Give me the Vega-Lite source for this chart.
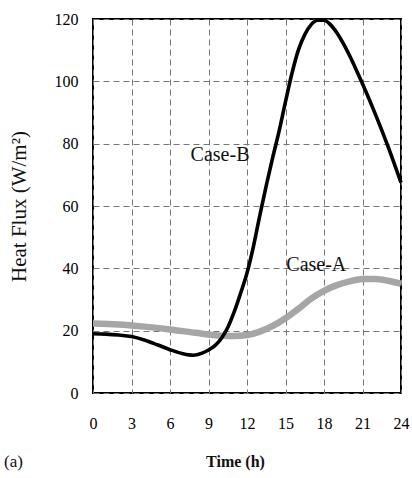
{
  "$schema": "https://vega.github.io/schema/vega-lite/v6.json",
  "width": 308,
  "height": 374,
  "autosize": "none",
  "padding": {"left": 93, "top": 19, "right": 11, "bottom": 85},
  "config": {
    "view": {"stroke": "black", "strokeWidth": 2},
    "font": "Liberation Serif",
    "axis": {
      "grid": true,
      "gridDash": [6, 4],
      "gridColor": "#777777",
      "gridWidth": 1,
      "ticks": false,
      "domain": false,
      "labelFlush": false,
      "labelFont": "Liberation Serif",
      "titleFont": "Liberation Serif",
      "labelColor": "#000000",
      "titleColor": "#111111",
      "labelFontSize": 16,
      "titleFontSize": 16,
      "titleFontWeight": "bold"
    }
  },
  "title": {
    "text": "(a)",
    "orient": "bottom",
    "anchor": "start",
    "frame": "group",
    "dx": -89,
    "dy": -19,
    "fontSize": 17,
    "fontWeight": "normal",
    "color": "#111111",
    "font": "Liberation Serif"
  },
  "datasets": {
    "curves": [
      {"series": "Case-A", "t": 0, "q": 22.3},
      {"series": "Case-A", "t": 2, "q": 22.0},
      {"series": "Case-A", "t": 4, "q": 21.3},
      {"series": "Case-A", "t": 6, "q": 20.4},
      {"series": "Case-A", "t": 8, "q": 19.3},
      {"series": "Case-A", "t": 10, "q": 18.4},
      {"series": "Case-A", "t": 11, "q": 18.3},
      {"series": "Case-A", "t": 12, "q": 18.6},
      {"series": "Case-A", "t": 13, "q": 19.7},
      {"series": "Case-A", "t": 14, "q": 21.5},
      {"series": "Case-A", "t": 15, "q": 24.0},
      {"series": "Case-A", "t": 16, "q": 27.0},
      {"series": "Case-A", "t": 17, "q": 30.3},
      {"series": "Case-A", "t": 18, "q": 32.8},
      {"series": "Case-A", "t": 19, "q": 34.6},
      {"series": "Case-A", "t": 20, "q": 35.8},
      {"series": "Case-A", "t": 21, "q": 36.6},
      {"series": "Case-A", "t": 22, "q": 36.6},
      {"series": "Case-A", "t": 23, "q": 36.0},
      {"series": "Case-A", "t": 24, "q": 35.0},
      {"series": "Case-B", "t": 0, "q": 19.0},
      {"series": "Case-B", "t": 1, "q": 18.9},
      {"series": "Case-B", "t": 2, "q": 18.6},
      {"series": "Case-B", "t": 3, "q": 18.1},
      {"series": "Case-B", "t": 4, "q": 17.0},
      {"series": "Case-B", "t": 5, "q": 15.5},
      {"series": "Case-B", "t": 6, "q": 13.9},
      {"series": "Case-B", "t": 7, "q": 12.6},
      {"series": "Case-B", "t": 7.8, "q": 12.1},
      {"series": "Case-B", "t": 8.5, "q": 12.8},
      {"series": "Case-B", "t": 9, "q": 13.8},
      {"series": "Case-B", "t": 9.5, "q": 15.2},
      {"series": "Case-B", "t": 10, "q": 17.5},
      {"series": "Case-B", "t": 10.5, "q": 21.0},
      {"series": "Case-B", "t": 11, "q": 26.0},
      {"series": "Case-B", "t": 11.5, "q": 32.0},
      {"series": "Case-B", "t": 12, "q": 38.5},
      {"series": "Case-B", "t": 12.5, "q": 47.0},
      {"series": "Case-B", "t": 13, "q": 57.0},
      {"series": "Case-B", "t": 13.5, "q": 66.5},
      {"series": "Case-B", "t": 14, "q": 75.5},
      {"series": "Case-B", "t": 14.5, "q": 84.0},
      {"series": "Case-B", "t": 15, "q": 93.5},
      {"series": "Case-B", "t": 15.5, "q": 102.5},
      {"series": "Case-B", "t": 16, "q": 110.0},
      {"series": "Case-B", "t": 16.5, "q": 115.0},
      {"series": "Case-B", "t": 17, "q": 118.2},
      {"series": "Case-B", "t": 17.5, "q": 119.6},
      {"series": "Case-B", "t": 18, "q": 119.6},
      {"series": "Case-B", "t": 18.5, "q": 118.2},
      {"series": "Case-B", "t": 19, "q": 115.6},
      {"series": "Case-B", "t": 19.5, "q": 112.2},
      {"series": "Case-B", "t": 20, "q": 108.2},
      {"series": "Case-B", "t": 20.5, "q": 103.8},
      {"series": "Case-B", "t": 21, "q": 99.2},
      {"series": "Case-B", "t": 22, "q": 89.5},
      {"series": "Case-B", "t": 23, "q": 79.0},
      {"series": "Case-B", "t": 24, "q": 67.5}
    ],
    "labels": [
      {"label": "Case-B", "t": 9.9, "q": 76.5},
      {"label": "Case-A", "t": 17.4, "q": 41}
    ]
  },
  "encoding": {
    "x": {
      "field": "t", "type": "quantitative",
      "scale": {"domain": [0, 24], "nice": false, "zero": false},
      "axis": {"values": [0, 3, 6, 9, 12, 15, 18, 21, 24], "title": "Time (h)", "labelPadding": 22, "titlePadding": 22, "titleX": 142, "titleAlign": "center"}
    },
    "y": {
      "field": "q", "type": "quantitative",
      "scale": {"domain": [0, 120], "nice": false},
      "axis": {"values": [0, 20, 40, 60, 80, 100, 120], "title": "Heat Flux (W/m²)", "labelPadding": 15, "titlePadding": 25, "titleFontSize": 21, "titleFontWeight": "normal"}
    }
  },
  "layer": [
    {
      "data": {"name": "curves"},
      "transform": [{"filter": "datum.series === 'Case-A'"}],
      "mark": {"type": "line", "color": "#a6a6a6", "strokeWidth": 6.5, "interpolate": "monotone"}
    },
    {
      "data": {"name": "curves"},
      "transform": [{"filter": "datum.series === 'Case-B'"}],
      "mark": {"type": "line", "color": "#000000", "strokeWidth": 3.6, "interpolate": "monotone"}
    },
    {
      "data": {"name": "labels"},
      "mark": {"type": "text", "fontSize": 20, "font": "Liberation Serif", "color": "#111111", "align": "center", "baseline": "middle"},
      "encoding": {"text": {"field": "label"}}
    }
  ]
}
